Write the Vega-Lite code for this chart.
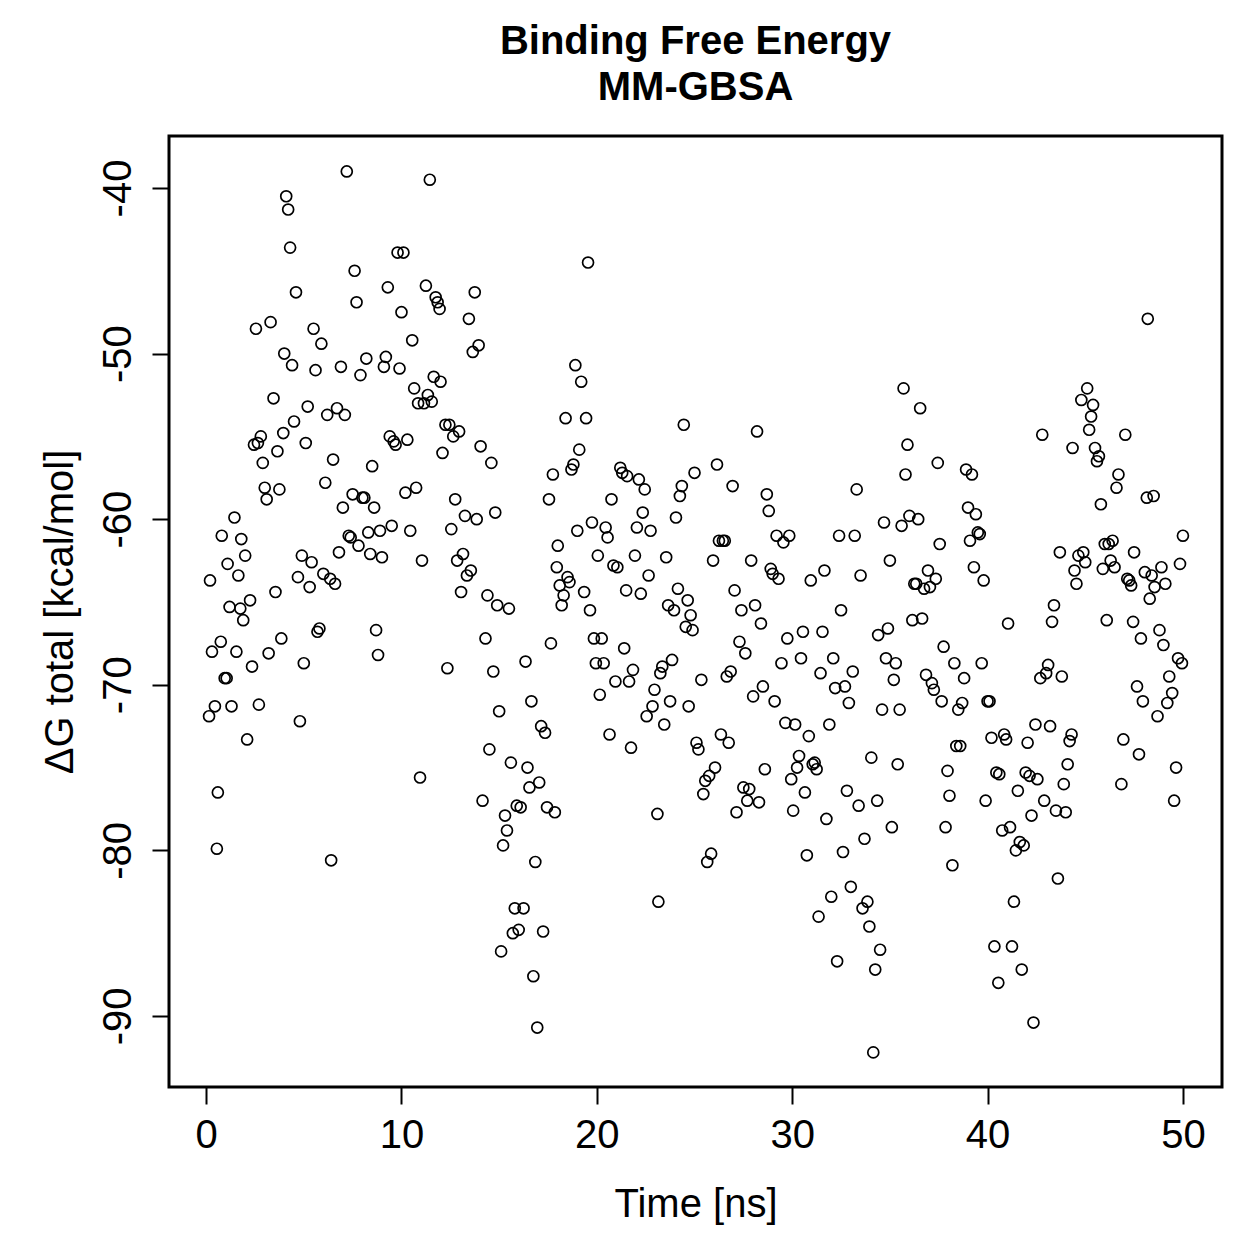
{
  "$schema": "https://vega.github.io/schema/vega-lite/v6.json",
  "autosize": {"type": "none"},
  "padding": {"left": 169, "top": 136, "right": 37, "bottom": 172},
  "width": 1053,
  "height": 951,
  "background": "white",
  "title": {
    "text": ["Binding Free Energy", "MM-GBSA"],
    "font": "Liberation Sans",
    "fontSize": 40,
    "fontWeight": "bold",
    "color": "black",
    "anchor": "middle",
    "lineHeight": 46,
    "offset": 28
  },
  "config": {
    "view": {"stroke": "black", "strokeWidth": 3},
    "axis": {
      "domain": false,
      "grid": false,
      "ticks": true,
      "tickColor": "black",
      "tickWidth": 2,
      "tickSize": 17,
      "labelFont": "Liberation Sans",
      "labelFontSize": 40,
      "labelColor": "black",
      "labelExpr": "toString(datum.value)",
      "titleFont": "Liberation Sans",
      "titleFontSize": 40,
      "titleFontWeight": "normal",
      "titleColor": "black"
    }
  },
  "data": {
    "values": [
      {"t": 0.15, "g": -71.9}, {"t": 0.2, "g": -63.7}, {"t": 0.3, "g": -68.0}, {"t": 0.45, "g": -71.3},
      {"t": 0.55, "g": -79.9}, {"t": 0.6, "g": -76.5}, {"t": 0.75, "g": -67.4}, {"t": 0.8, "g": -61.0},
      {"t": 0.95, "g": -69.6}, {"t": 1.05, "g": -69.6}, {"t": 1.1, "g": -62.7}, {"t": 1.2, "g": -65.3},
      {"t": 1.3, "g": -71.3}, {"t": 1.45, "g": -59.9}, {"t": 1.55, "g": -68.0}, {"t": 1.65, "g": -63.4},
      {"t": 1.75, "g": -65.4}, {"t": 1.8, "g": -61.2}, {"t": 1.9, "g": -66.1}, {"t": 2.0, "g": -62.2},
      {"t": 2.1, "g": -73.3}, {"t": 2.25, "g": -64.9}, {"t": 2.35, "g": -68.9}, {"t": 2.45, "g": -55.5},
      {"t": 2.55, "g": -48.5}, {"t": 2.65, "g": -55.4}, {"t": 2.7, "g": -71.2}, {"t": 2.8, "g": -55.0},
      {"t": 2.9, "g": -56.6}, {"t": 3.0, "g": -58.1}, {"t": 3.1, "g": -58.8}, {"t": 3.2, "g": -68.1},
      {"t": 3.3, "g": -48.1}, {"t": 3.45, "g": -52.7}, {"t": 3.55, "g": -64.4}, {"t": 3.65, "g": -55.9},
      {"t": 3.75, "g": -58.2}, {"t": 3.85, "g": -67.2}, {"t": 3.95, "g": -54.8}, {"t": 4.0, "g": -50.0},
      {"t": 4.1, "g": -40.5}, {"t": 4.2, "g": -41.3}, {"t": 4.3, "g": -43.6}, {"t": 4.4, "g": -50.7},
      {"t": 4.5, "g": -54.1}, {"t": 4.6, "g": -46.3}, {"t": 4.7, "g": -63.5}, {"t": 4.8, "g": -72.2},
      {"t": 4.9, "g": -62.2}, {"t": 5.0, "g": -68.7},
      {"t": 5.1, "g": -55.4}, {"t": 5.2, "g": -53.2}, {"t": 5.3, "g": -64.1}, {"t": 5.4, "g": -62.6},
      {"t": 5.5, "g": -48.5}, {"t": 5.6, "g": -51.0}, {"t": 5.7, "g": -66.8}, {"t": 5.8, "g": -66.6},
      {"t": 5.9, "g": -49.4}, {"t": 6.0, "g": -63.3}, {"t": 6.1, "g": -57.8}, {"t": 6.2, "g": -53.7},
      {"t": 6.35, "g": -63.6}, {"t": 6.4, "g": -80.6}, {"t": 6.5, "g": -56.4}, {"t": 6.6, "g": -63.9},
      {"t": 6.7, "g": -53.3}, {"t": 6.8, "g": -62.0}, {"t": 6.9, "g": -50.8}, {"t": 7.0, "g": -59.3},
      {"t": 7.1, "g": -53.7}, {"t": 7.2, "g": -39.0}, {"t": 7.3, "g": -61.0}, {"t": 7.4, "g": -61.1},
      {"t": 7.5, "g": -58.5}, {"t": 7.6, "g": -45.0}, {"t": 7.7, "g": -46.9}, {"t": 7.8, "g": -61.6},
      {"t": 7.9, "g": -51.3}, {"t": 8.0, "g": -58.7}, {"t": 8.1, "g": -58.7}, {"t": 8.2, "g": -50.3},
      {"t": 8.3, "g": -60.8}, {"t": 8.4, "g": -62.1}, {"t": 8.5, "g": -56.8}, {"t": 8.6, "g": -59.3},
      {"t": 8.7, "g": -66.7}, {"t": 8.8, "g": -68.2}, {"t": 8.9, "g": -60.7}, {"t": 9.0, "g": -62.3},
      {"t": 9.1, "g": -50.8}, {"t": 9.2, "g": -50.2}, {"t": 9.3, "g": -46.0}, {"t": 9.4, "g": -55.0},
      {"t": 9.5, "g": -60.4}, {"t": 9.6, "g": -55.3}, {"t": 9.7, "g": -55.5}, {"t": 9.8, "g": -43.9},
      {"t": 9.9, "g": -50.9}, {"t": 10.0, "g": -47.5},
      {"t": 10.1, "g": -43.9}, {"t": 10.2, "g": -58.4}, {"t": 10.3, "g": -55.2}, {"t": 10.45, "g": -60.7},
      {"t": 10.55, "g": -49.2}, {"t": 10.65, "g": -52.1}, {"t": 10.75, "g": -58.1}, {"t": 10.85, "g": -53.0},
      {"t": 10.95, "g": -75.6}, {"t": 11.05, "g": -62.5}, {"t": 11.15, "g": -53.0}, {"t": 11.25, "g": -45.9},
      {"t": 11.35, "g": -52.5}, {"t": 11.45, "g": -39.5}, {"t": 11.55, "g": -52.9}, {"t": 11.65, "g": -51.4},
      {"t": 11.75, "g": -46.6}, {"t": 11.85, "g": -46.9}, {"t": 11.95, "g": -47.3}, {"t": 12.0, "g": -51.7},
      {"t": 12.1, "g": -56.0}, {"t": 12.25, "g": -54.3}, {"t": 12.35, "g": -69.0}, {"t": 12.45, "g": -54.3},
      {"t": 12.55, "g": -60.6}, {"t": 12.65, "g": -55.0}, {"t": 12.75, "g": -58.8}, {"t": 12.85, "g": -62.5},
      {"t": 12.95, "g": -54.7}, {"t": 13.05, "g": -64.4}, {"t": 13.15, "g": -62.1}, {"t": 13.25, "g": -59.8},
      {"t": 13.35, "g": -63.4}, {"t": 13.45, "g": -47.9}, {"t": 13.55, "g": -63.1}, {"t": 13.65, "g": -49.9},
      {"t": 13.75, "g": -46.3}, {"t": 13.85, "g": -60.0}, {"t": 13.95, "g": -49.5}, {"t": 14.05, "g": -55.6},
      {"t": 14.15, "g": -77.0}, {"t": 14.3, "g": -67.2}, {"t": 14.4, "g": -64.6}, {"t": 14.5, "g": -73.9},
      {"t": 14.6, "g": -56.6}, {"t": 14.7, "g": -69.2}, {"t": 14.8, "g": -59.6}, {"t": 14.9, "g": -65.2},
      {"t": 15.0, "g": -71.6},
      {"t": 15.1, "g": -86.1}, {"t": 15.2, "g": -79.7}, {"t": 15.3, "g": -77.9}, {"t": 15.4, "g": -78.8},
      {"t": 15.5, "g": -65.4}, {"t": 15.6, "g": -74.7}, {"t": 15.7, "g": -85.0}, {"t": 15.8, "g": -83.5},
      {"t": 15.9, "g": -77.3}, {"t": 16.0, "g": -84.8}, {"t": 16.1, "g": -77.4}, {"t": 16.25, "g": -83.5},
      {"t": 16.35, "g": -68.6}, {"t": 16.45, "g": -75.0}, {"t": 16.55, "g": -76.2}, {"t": 16.65, "g": -71.0},
      {"t": 16.75, "g": -87.6}, {"t": 16.85, "g": -80.7}, {"t": 16.95, "g": -90.7}, {"t": 17.05, "g": -75.9},
      {"t": 17.15, "g": -72.5}, {"t": 17.25, "g": -84.9}, {"t": 17.35, "g": -72.9}, {"t": 17.45, "g": -77.4},
      {"t": 17.55, "g": -58.8}, {"t": 17.65, "g": -67.5}, {"t": 17.75, "g": -57.3}, {"t": 17.85, "g": -77.7},
      {"t": 17.95, "g": -62.9}, {"t": 18.0, "g": -61.6}, {"t": 18.1, "g": -64.0}, {"t": 18.2, "g": -65.2},
      {"t": 18.3, "g": -64.6}, {"t": 18.4, "g": -53.9}, {"t": 18.5, "g": -63.5}, {"t": 18.6, "g": -63.8},
      {"t": 18.7, "g": -57.0}, {"t": 18.8, "g": -56.7}, {"t": 18.9, "g": -50.7}, {"t": 19.0, "g": -60.7},
      {"t": 19.1, "g": -55.8}, {"t": 19.2, "g": -51.7}, {"t": 19.35, "g": -64.4}, {"t": 19.45, "g": -53.9},
      {"t": 19.55, "g": -44.5}, {"t": 19.65, "g": -65.5}, {"t": 19.75, "g": -60.2}, {"t": 19.85, "g": -67.2},
      {"t": 19.95, "g": -68.7}, {"t": 20.05, "g": -62.2},
      {"t": 20.15, "g": -70.6}, {"t": 20.25, "g": -67.2}, {"t": 20.35, "g": -68.7}, {"t": 20.45, "g": -60.5},
      {"t": 20.55, "g": -61.1}, {"t": 20.65, "g": -73.0}, {"t": 20.75, "g": -58.8}, {"t": 20.85, "g": -62.8},
      {"t": 20.95, "g": -69.8}, {"t": 21.05, "g": -62.9}, {"t": 21.2, "g": -56.9}, {"t": 21.3, "g": -57.2},
      {"t": 21.4, "g": -67.8}, {"t": 21.5, "g": -64.3}, {"t": 21.55, "g": -57.4}, {"t": 21.65, "g": -69.8},
      {"t": 21.75, "g": -73.8}, {"t": 21.85, "g": -69.1}, {"t": 21.95, "g": -62.2}, {"t": 22.05, "g": -60.5},
      {"t": 22.15, "g": -57.6}, {"t": 22.25, "g": -64.5}, {"t": 22.35, "g": -59.6}, {"t": 22.45, "g": -58.2},
      {"t": 22.55, "g": -71.9}, {"t": 22.65, "g": -63.4}, {"t": 22.75, "g": -60.7}, {"t": 22.85, "g": -71.3},
      {"t": 22.95, "g": -70.3}, {"t": 23.1, "g": -77.8}, {"t": 23.15, "g": -83.1}, {"t": 23.25, "g": -69.3},
      {"t": 23.35, "g": -68.9}, {"t": 23.45, "g": -72.4}, {"t": 23.55, "g": -62.3}, {"t": 23.65, "g": -65.2},
      {"t": 23.75, "g": -71.0}, {"t": 23.85, "g": -68.5}, {"t": 23.95, "g": -65.5}, {"t": 24.05, "g": -59.9},
      {"t": 24.15, "g": -64.2}, {"t": 24.25, "g": -58.6}, {"t": 24.35, "g": -58.0}, {"t": 24.45, "g": -54.3},
      {"t": 24.55, "g": -66.5}, {"t": 24.65, "g": -64.9}, {"t": 24.7, "g": -71.3}, {"t": 24.8, "g": -65.8},
      {"t": 24.9, "g": -66.7}, {"t": 25.0, "g": -57.2},
      {"t": 25.1, "g": -73.5}, {"t": 25.2, "g": -73.9}, {"t": 25.35, "g": -69.7}, {"t": 25.45, "g": -76.6},
      {"t": 25.55, "g": -75.8}, {"t": 25.65, "g": -80.7}, {"t": 25.75, "g": -75.5}, {"t": 25.85, "g": -80.2},
      {"t": 25.95, "g": -62.5}, {"t": 26.05, "g": -75.0}, {"t": 26.15, "g": -56.7}, {"t": 26.25, "g": -61.3},
      {"t": 26.35, "g": -73.0}, {"t": 26.45, "g": -61.3}, {"t": 26.55, "g": -61.3}, {"t": 26.65, "g": -69.5},
      {"t": 26.75, "g": -73.5}, {"t": 26.85, "g": -69.2}, {"t": 26.95, "g": -58.0}, {"t": 27.05, "g": -64.3},
      {"t": 27.15, "g": -77.7}, {"t": 27.3, "g": -67.4}, {"t": 27.4, "g": -65.5}, {"t": 27.5, "g": -76.2},
      {"t": 27.6, "g": -68.1}, {"t": 27.7, "g": -77.0}, {"t": 27.8, "g": -76.3}, {"t": 27.9, "g": -62.5},
      {"t": 28.0, "g": -70.7}, {"t": 28.1, "g": -65.2}, {"t": 28.2, "g": -54.7}, {"t": 28.3, "g": -77.1},
      {"t": 28.4, "g": -66.3}, {"t": 28.5, "g": -70.1}, {"t": 28.6, "g": -75.1}, {"t": 28.7, "g": -58.5},
      {"t": 28.8, "g": -59.5}, {"t": 28.9, "g": -63.0}, {"t": 29.0, "g": -63.3}, {"t": 29.1, "g": -71.0},
      {"t": 29.2, "g": -61.0}, {"t": 29.3, "g": -63.6}, {"t": 29.45, "g": -68.7}, {"t": 29.55, "g": -61.4},
      {"t": 29.65, "g": -72.3}, {"t": 29.75, "g": -67.2}, {"t": 29.85, "g": -61.0}, {"t": 29.95, "g": -75.7},
      {"t": 30.05, "g": -77.6}, {"t": 30.15, "g": -72.4},
      {"t": 30.25, "g": -75.0}, {"t": 30.35, "g": -74.3}, {"t": 30.45, "g": -68.4}, {"t": 30.55, "g": -66.8},
      {"t": 30.65, "g": -76.5}, {"t": 30.75, "g": -80.3}, {"t": 30.85, "g": -73.1}, {"t": 30.95, "g": -63.7},
      {"t": 31.05, "g": -74.8}, {"t": 31.15, "g": -74.7}, {"t": 31.25, "g": -75.1}, {"t": 31.35, "g": -84.0},
      {"t": 31.45, "g": -69.3}, {"t": 31.55, "g": -66.8}, {"t": 31.65, "g": -63.1}, {"t": 31.75, "g": -78.1},
      {"t": 31.9, "g": -72.4}, {"t": 32.0, "g": -82.8}, {"t": 32.1, "g": -68.4}, {"t": 32.2, "g": -70.2},
      {"t": 32.3, "g": -86.7}, {"t": 32.4, "g": -61.0}, {"t": 32.5, "g": -65.5}, {"t": 32.6, "g": -80.1},
      {"t": 32.7, "g": -70.1}, {"t": 32.8, "g": -76.4}, {"t": 32.9, "g": -71.1}, {"t": 33.0, "g": -82.2},
      {"t": 33.1, "g": -69.2}, {"t": 33.2, "g": -61.0}, {"t": 33.3, "g": -58.2}, {"t": 33.4, "g": -77.3},
      {"t": 33.5, "g": -63.4}, {"t": 33.6, "g": -83.5}, {"t": 33.7, "g": -79.3}, {"t": 33.85, "g": -83.1},
      {"t": 33.95, "g": -84.6}, {"t": 34.05, "g": -74.4}, {"t": 34.15, "g": -92.2}, {"t": 34.25, "g": -87.2},
      {"t": 34.35, "g": -77.0}, {"t": 34.4, "g": -67.0}, {"t": 34.5, "g": -86.0}, {"t": 34.6, "g": -71.5},
      {"t": 34.7, "g": -60.2}, {"t": 34.8, "g": -68.4}, {"t": 34.9, "g": -66.6}, {"t": 35.0, "g": -62.5},
      {"t": 35.1, "g": -78.6}, {"t": 35.2, "g": -69.7},
      {"t": 35.3, "g": -68.7}, {"t": 35.4, "g": -74.8}, {"t": 35.5, "g": -71.5}, {"t": 35.6, "g": -60.4},
      {"t": 35.7, "g": -52.1}, {"t": 35.8, "g": -57.3}, {"t": 35.9, "g": -55.5}, {"t": 36.0, "g": -59.8},
      {"t": 36.15, "g": -66.1}, {"t": 36.25, "g": -63.9}, {"t": 36.35, "g": -63.9}, {"t": 36.45, "g": -60.0},
      {"t": 36.55, "g": -53.3}, {"t": 36.65, "g": -66.0}, {"t": 36.75, "g": -64.2}, {"t": 36.85, "g": -69.4},
      {"t": 36.95, "g": -63.1}, {"t": 37.05, "g": -64.1}, {"t": 37.15, "g": -69.9}, {"t": 37.25, "g": -70.3},
      {"t": 37.35, "g": -63.6}, {"t": 37.45, "g": -56.6}, {"t": 37.55, "g": -61.5}, {"t": 37.65, "g": -71.0},
      {"t": 37.75, "g": -67.7}, {"t": 37.85, "g": -78.6}, {"t": 37.95, "g": -75.2}, {"t": 38.05, "g": -76.7},
      {"t": 38.2, "g": -80.9}, {"t": 38.3, "g": -68.7}, {"t": 38.4, "g": -73.7}, {"t": 38.5, "g": -71.5},
      {"t": 38.6, "g": -73.7}, {"t": 38.7, "g": -71.1}, {"t": 38.8, "g": -69.6}, {"t": 38.9, "g": -57.0},
      {"t": 39.0, "g": -59.3}, {"t": 39.1, "g": -61.3}, {"t": 39.2, "g": -57.3}, {"t": 39.3, "g": -62.9},
      {"t": 39.4, "g": -59.7}, {"t": 39.5, "g": -60.8}, {"t": 39.6, "g": -60.9}, {"t": 39.7, "g": -68.7},
      {"t": 39.8, "g": -63.7}, {"t": 39.9, "g": -77.0}, {"t": 40.0, "g": -71.0}, {"t": 40.1, "g": -71.0},
      {"t": 40.2, "g": -73.2},
      {"t": 40.35, "g": -85.8}, {"t": 40.45, "g": -75.3}, {"t": 40.55, "g": -88.0}, {"t": 40.6, "g": -75.4},
      {"t": 40.75, "g": -78.8}, {"t": 40.85, "g": -73.0}, {"t": 40.95, "g": -73.3}, {"t": 41.05, "g": -66.3},
      {"t": 41.15, "g": -78.6}, {"t": 41.25, "g": -85.8}, {"t": 41.35, "g": -83.1}, {"t": 41.45, "g": -80.0},
      {"t": 41.55, "g": -76.4}, {"t": 41.65, "g": -79.5}, {"t": 41.75, "g": -87.2}, {"t": 41.85, "g": -79.7},
      {"t": 41.95, "g": -75.3}, {"t": 42.05, "g": -73.5}, {"t": 42.15, "g": -75.5}, {"t": 42.25, "g": -77.9},
      {"t": 42.35, "g": -90.4}, {"t": 42.45, "g": -72.4}, {"t": 42.55, "g": -75.7}, {"t": 42.7, "g": -69.6},
      {"t": 42.8, "g": -54.9}, {"t": 42.9, "g": -77.0}, {"t": 43.0, "g": -69.3}, {"t": 43.1, "g": -68.8},
      {"t": 43.2, "g": -72.5}, {"t": 43.3, "g": -66.2}, {"t": 43.4, "g": -65.2}, {"t": 43.5, "g": -77.6},
      {"t": 43.6, "g": -81.7}, {"t": 43.7, "g": -62.0}, {"t": 43.8, "g": -69.5}, {"t": 43.9, "g": -76.0},
      {"t": 44.0, "g": -77.7}, {"t": 44.1, "g": -74.8}, {"t": 44.2, "g": -73.4}, {"t": 44.3, "g": -73.0},
      {"t": 44.35, "g": -55.7}, {"t": 44.45, "g": -63.1}, {"t": 44.55, "g": -63.9}, {"t": 44.65, "g": -62.2},
      {"t": 44.8, "g": -52.8}, {"t": 44.9, "g": -62.0}, {"t": 45.0, "g": -62.6}, {"t": 45.1, "g": -52.1},
      {"t": 45.2, "g": -54.6},
      {"t": 45.3, "g": -53.8}, {"t": 45.4, "g": -53.1}, {"t": 45.5, "g": -55.7}, {"t": 45.6, "g": -56.5},
      {"t": 45.7, "g": -56.2}, {"t": 45.8, "g": -59.1}, {"t": 45.9, "g": -63.0}, {"t": 46.0, "g": -61.5},
      {"t": 46.1, "g": -66.1}, {"t": 46.2, "g": -61.5}, {"t": 46.3, "g": -62.5}, {"t": 46.4, "g": -61.3},
      {"t": 46.5, "g": -62.9}, {"t": 46.6, "g": -58.1}, {"t": 46.7, "g": -57.3}, {"t": 46.85, "g": -76.0},
      {"t": 46.95, "g": -73.3}, {"t": 47.05, "g": -54.9}, {"t": 47.15, "g": -63.6}, {"t": 47.25, "g": -63.7},
      {"t": 47.35, "g": -64.0}, {"t": 47.45, "g": -66.2}, {"t": 47.5, "g": -62.0}, {"t": 47.65, "g": -70.1},
      {"t": 47.75, "g": -74.2}, {"t": 47.85, "g": -67.2}, {"t": 47.95, "g": -71.0}, {"t": 48.05, "g": -63.2},
      {"t": 48.15, "g": -58.7}, {"t": 48.2, "g": -47.9}, {"t": 48.3, "g": -64.8}, {"t": 48.4, "g": -63.4},
      {"t": 48.5, "g": -58.6}, {"t": 48.55, "g": -64.1}, {"t": 48.7, "g": -71.9}, {"t": 48.8, "g": -66.7},
      {"t": 48.9, "g": -62.9}, {"t": 49.0, "g": -67.6}, {"t": 49.1, "g": -63.9}, {"t": 49.2, "g": -71.1},
      {"t": 49.3, "g": -69.5}, {"t": 49.45, "g": -70.5}, {"t": 49.55, "g": -77.0}, {"t": 49.65, "g": -75.0},
      {"t": 49.75, "g": -68.4}, {"t": 49.85, "g": -62.7}, {"t": 49.95, "g": -68.7}, {"t": 50.0, "g": -61.0}
    ]
  },
  "mark": {
    "type": "point",
    "shape": "circle",
    "filled": false,
    "stroke": "black",
    "strokeWidth": 1.7,
    "size": 120,
    "opacity": 1
  },
  "encoding": {
    "x": {
      "field": "t",
      "type": "quantitative",
      "scale": {"domain": [-1.9, 52.0], "nice": false, "zero": false},
      "axis": {
        "title": "Time [ns]",
        "values": [0, 10, 20, 30, 40, 50],
        "labelBaseline": "top",
        "labelPadding": 11,
        "titleBaseline": "alphabetic",
        "titleY": 129
      }
    },
    "y": {
      "field": "g",
      "type": "quantitative",
      "scale": {"domain": [-94.29, -36.86], "nice": false, "zero": false},
      "axis": {
        "title": "ΔG total [kcal/mol]",
        "values": [-90, -80, -70, -60, -50, -40],
        "labelAngle": 270,
        "labelAlign": "center",
        "labelBaseline": "alphabetic",
        "labelPadding": 22,
        "titleAngle": 270,
        "titleBaseline": "alphabetic",
        "titleX": -97
      }
    }
  }
}
